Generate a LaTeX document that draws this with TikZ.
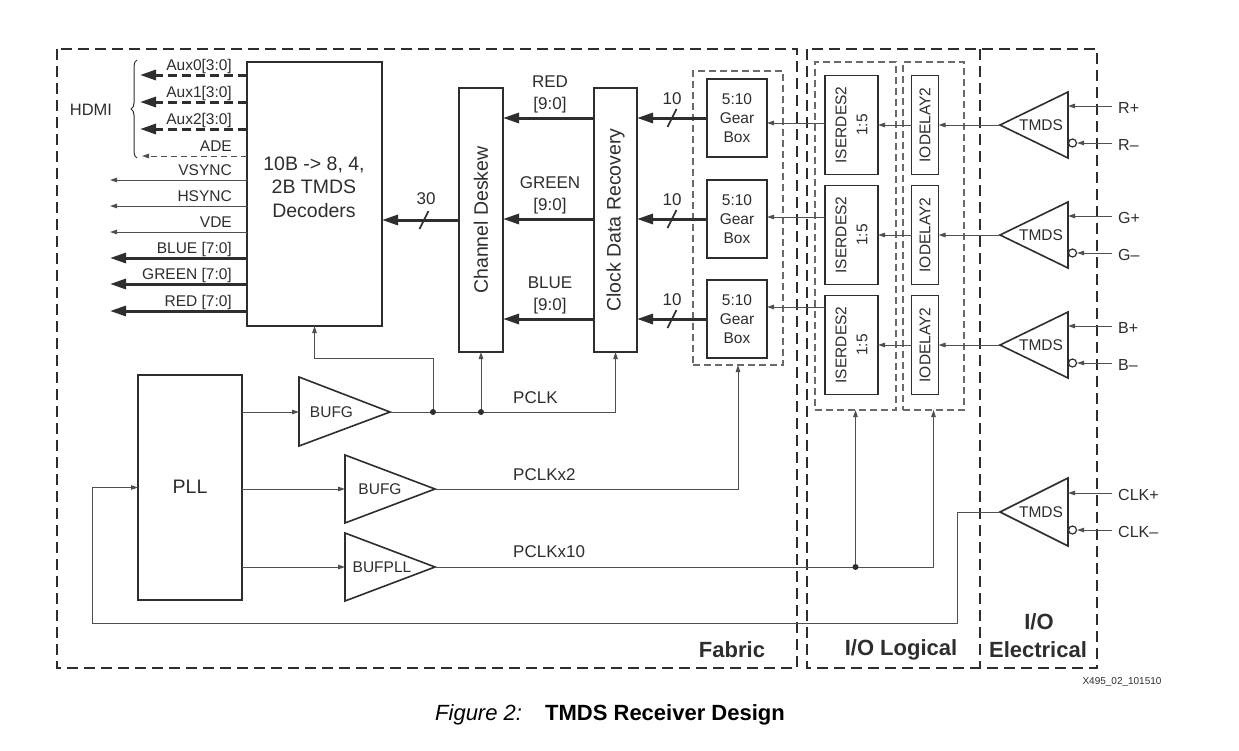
\documentclass[tikz,border=0pt]{standalone}
\usepackage{fontspec}
\setmainfont{Liberation Sans}
\usetikzlibrary{arrows.meta,decorations.pathreplacing,calc}
\definecolor{ink}{HTML}{2E2E2E}
\definecolor{wirec}{HTML}{505050}
\definecolor{dashc}{HTML}{6A6A6A}
\begin{document}
\begin{tikzpicture}[x=1pt,y=-1pt,
  lab/.style={text=ink,inner sep=0pt,font=\fontsize{15.5}{19}\selectfont},
  midlab/.style={text=ink,inner sep=0pt,font=\fontsize{17}{20}\selectfont},
  biglab/.style={text=ink,inner sep=0pt,font=\fontsize{19.5}{23.5}\selectfont,align=center},
  reglab/.style={text=ink,inner sep=0pt,font=\fontsize{22}{26}\selectfont\bfseries},
  box/.style={draw=ink,line width=1.8pt,fill=white,inner sep=0pt,outer sep=0pt},
  grp/.style={draw=dashc,line width=1.1pt,dash pattern=on 7pt off 4pt,inner sep=0pt,outer sep=0pt},
  region/.style={draw=ink,line width=1.8pt,dash pattern=on 11pt off 6pt},
  bus/.style={draw=ink,line width=3pt,-{Triangle[length=16pt,width=10pt]}},
  auxbus/.style={bus,dash pattern=on 9pt off 5pt},
  sig/.style={draw=wirec,line width=1pt,-{Triangle[length=7pt,width=4.5pt]}},
  adesig/.style={sig,dash pattern=on 6pt off 4pt},
  tri/.style={draw=ink,line width=1.6pt,fill=white,line join=miter},
  jdot/.style={circle,fill=ink,inner sep=0pt,minimum size=6pt},
  slashmark/.style={draw=ink,line width=1.6pt},
  bubble/.style={circle,draw=ink,line width=1.2pt,fill=white,inner sep=0pt,minimum size=8pt}]
\fill[white] (0,0) rectangle (1239,750);
\useasboundingbox (0,0) rectangle (1239,750);

% regions
\draw[region] (57,49) rectangle (797,668);
\draw[region] (807,49) rectangle (1097,668);
\draw[region] (980,49) -- (980,668);

% groups
\node[grp,minimum width=90pt,minimum height=294pt] (gg) at (738,218) {};
\node[grp,minimum width=81pt,minimum height=348pt] (sg) at (855.5,236) {};
\node[grp,minimum width=61pt,minimum height=348pt] (dg) at (933.5,236) {};

% main boxes
\node[box,minimum width=135pt,minimum height=264pt] (dec) at (314.5,194) {};
\node[biglab] (dectxt) at (314,187) {10B -> 8, 4,\\2B TMDS\\Decoders};
\node[box,minimum width=44pt,minimum height=264pt] (desk) at (481,220) {};
\node[biglab,rotate=90] (desktxt) at (desk) {Channel Deskew};
\node[box,minimum width=43pt,minimum height=264pt] (cdr) at (615.5,220) {};
\node[biglab,rotate=90] (cdrtxt) at (cdr) {Clock Data Recovery};

% channels
\foreach \cy/\gy/\sy/\n/\c/\bt in {125/118/123/1/R/RED,235/219/217/2/G/GREEN,345/319/307/3/B/BLUE}{
  \node[box,minimum width=60pt,minimum height=78pt] (gear\n) at (737,\gy) {};
  \node[lab,align=center] (geartxt\n) at (gear\n) {5:10\\Gear\\Box};
  \node[box,minimum width=53pt,minimum height=99pt] (iser\n) at (851.5,\cy) {};
  \node[lab,align=center,rotate=90,font=\fontsize{15.5}{21}\selectfont] (isertxt\n) at (iser\n) {ISERDES2\\1:5};
  \node[box,minimum width=27pt,minimum height=99pt] (idel\n) at (925,\cy) {};
  \node[lab,rotate=90] (ideltxt\n) at (idel\n) {IODELAY2};
  \draw[tri] (1000,\cy) -- (1068,\cy-33) -- (1068,\cy+33) -- cycle;
  \coordinate (tmds\n) at (1000,\cy);
  \coordinate (tp\n) at (1068,\cy-19);
  \node[lab] (tmdstxt\n) at (1041,\cy) {TMDS};
  \node[bubble] (bub\n) at (1072.5,\cy+18) {};
  \coordinate (pin\n) at (1112,\cy-19);
  \coordinate (nin\n) at (1112,\cy+18);
  \draw[sig] (pin\n) -- (tp\n);
  \draw[sig] (nin\n) -- (bub\n);
  \node[lab,anchor=west,font=\fontsize{16}{19}\selectfont] (plab\n) at (1118,\cy-17) {\c+};
  \node[lab,anchor=west,font=\fontsize{16}{19}\selectfont] (nlab\n) at (1118,\cy+20) {\c–};
  \draw[sig] (tmds\n) -- (idel\n.east);
  \draw[sig] (idel\n.west) -- (iser\n.east);
  \draw[sig] (iser\n.west |- 0,\sy) -- (gear\n.east |- 0,\sy);
  \draw[bus] (gear\n.west) -- (cdr.east |- gear\n.west);
  \coordinate (m\n) at ($(gear\n.west)!0.5!(cdr.east |- gear\n.west)$);
  \draw[slashmark] ([shift={(-4.5,9)}]m\n) -- ([shift={(4.5,-9)}]m\n);
  \node[midlab] (ten\n) at ([shift={(0,-19)}]m\n) {10};
  \draw[bus] (cdr.west |- gear\n.west) -- (desk.east |- gear\n.west);
  \node[midlab] (cname\n) at (550,\gy-36) {\bt};
  \node[midlab] (cbits\n) at (550,\gy-13) {[9:0]};
}

% deskew -> decoder
\draw[bus] (desk.west) -- (dec.east |- desk.west);
\coordinate (m30) at (424,220);
\draw[slashmark] ([shift={(-4.5,9)}]m30) -- ([shift={(4.5,-9)}]m30);
\node[midlab] (thirty) at (426,199) {30};

% decoder outputs
\foreach \yy/\txt/\sty/\tip in {75/Aux0[3:0]/auxbus/140,102/Aux1[3:0]/auxbus/140,129/Aux2[3:0]/auxbus/140,156/ADE/adesig/142,180/VSYNC/sig/110,206/HSYNC/sig/110,232/VDE/sig/110,258/BLUE [7:0]/bus/110,284/GREEN [7:0]/bus/110,311/RED [7:0]/bus/110}{
  \draw[\sty] (dec.west |- 0,\yy) -- (\tip,\yy);
  \node[lab,anchor=base east] at (232,\yy-5) {\txt};
}
\draw[draw=ink,line width=1pt,decorate,decoration={brace,amplitude=6pt}] (137,158) -- (137,60);
\node[lab,font=\fontsize{16.5}{19}\selectfont] (hdmi) at (91,110) {HDMI};

% PLL and buffers
\node[box,minimum width=104pt,minimum height=225pt] (pll) at (190,487.5) {};
\node[biglab] (plltxt) at (190,487) {PLL};

\draw[tri] (299,377) -- (390,412) -- (299,446) -- cycle;
\coordinate (b1in) at (299,412); \coordinate (b1out) at (390,412);
\node[lab] (b1txt) at (331.5,412) {BUFG};
\draw[tri] (345,455) -- (435,489) -- (345,523) -- cycle;
\coordinate (b2in) at (345,489); \coordinate (b2out) at (435,489);
\node[lab] (b2txt) at (380,489) {BUFG};
\draw[tri] (345,533) -- (435,567) -- (345,601) -- cycle;
\coordinate (b3in) at (345,567); \coordinate (b3out) at (435,567);
\node[lab] (b3txt) at (382,567) {BUFPLL};

\draw[sig] (pll.east |- b1in) -- (b1in);
\draw[sig] (pll.east |- b2in) -- (b2in);
\draw[sig] (pll.east |- b3in) -- (b3in);

% PCLK
\coordinate (j1) at (433,412);
\coordinate (j2) at (desk.south |- b1out);
\draw[sig] (b1out) -| (cdr.south);
\draw[sig] (j1) |- ($(dec.south)+(0,32)$) -- (dec.south);
\draw[sig] (j2) -- (desk.south);
\node[jdot] at (j1) {};
\node[jdot] at (j2) {};
\node[midlab,anchor=west] (pclk) at (513,398) {PCLK};

% PCLKx2
\draw[sig] (b2out) -| (gg.south);
\node[midlab,anchor=west] (pclk2) at (513,475) {PCLKx2};

% PCLKx10
\coordinate (j3) at (sg.south |- b3out);
\draw[sig] (b3out) -| (dg.south);
\draw[sig] (j3) -- (sg.south);
\node[jdot] at (j3) {};
\node[midlab,anchor=west] (pclk10) at (513,552) {PCLKx10};

% clock TMDS
\draw[tri] (1000,512) -- (1068,478) -- (1068,546) -- cycle;
\coordinate (tmdsc) at (1000,512);
\coordinate (tpc) at (1068,493);
\node[lab] (tmdstxtc) at (1041,512) {TMDS};
\node[bubble] (bubc) at (1072.5,530) {};
\coordinate (pinc) at (1112,493);
\coordinate (ninc) at (1112,530);
\draw[sig] (pinc) -- (tpc);
\draw[sig] (ninc) -- (bubc);
\node[lab,anchor=west,font=\fontsize{16}{19}\selectfont] (plabc) at (1118,495) {CLK+};
\node[lab,anchor=west,font=\fontsize{16}{19}\selectfont] (nlabc) at (1118,532) {CLK–};

% feedback
\draw[sig] (tmdsc) -| (957,623) -| ([xshift=-46pt]pll.west) -- (pll.west);

% region labels
\node[reglab] (fab) at (732,650) {Fabric};
\node[reglab] (iol) at (901,650) {I/O Logical};
\node[reglab] (ioe1) at (1039,622) {I/O};
\node[reglab] (ioe2) at (1038,650) {Electrical};

\node[text=ink,inner sep=0pt,font=\fontsize{10}{12}\selectfont] (tag) at (1122,682) {X495\_02\_101510};
\node[text=black,inner sep=0pt,font=\fontsize{22}{26}\selectfont\itshape,anchor=west] (figno) at (435,715) {Figure 2:};
\node[text=black,inner sep=0pt,font=\fontsize{22}{26}\selectfont\bfseries,anchor=west] (figtitle) at (545,715) {TMDS Receiver Design};
\end{tikzpicture}
\end{document}
